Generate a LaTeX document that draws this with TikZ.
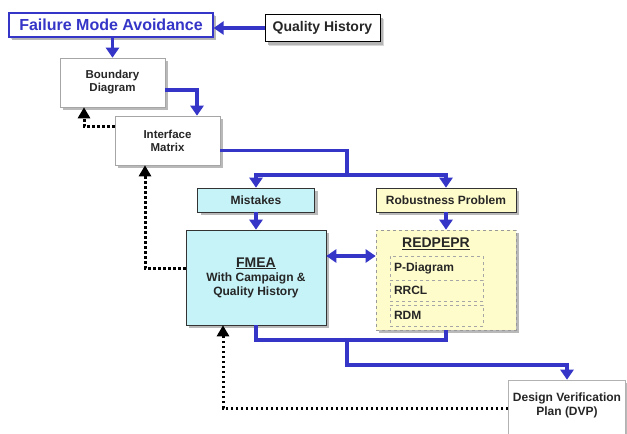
\documentclass[tikz,border=0pt]{standalone}
\usepackage{fontspec}
\setmainfont{Liberation Sans}
\usetikzlibrary{arrows.meta,shadows,calc}
\definecolor{fblue}{HTML}{3535C8}
\definecolor{cyanf}{HTML}{C6F3F8}
\definecolor{yelf}{HTML}{FFFCCB}
\definecolor{txt}{HTML}{262626}
\tikzset{
  base/.style={rectangle, draw=gray!70, line width=0.6pt, fill=white, align=center, font=\bfseries\fontsize{11.5}{13}\selectfont, text=txt, inner sep=1pt,
    drop shadow={shadow xshift=3pt, shadow yshift=-3pt, fill=gray!55, opacity=1}},
  inbox/.style={draw=gray!70, dashed, line width=0.6pt, minimum width=93pt, text width=85pt, inner sep=2pt, align=left, font=\bfseries\fontsize{12}{13}\selectfont, text=txt},
  flow/.style={draw=fblue, line width=3.2pt, -{Triangle[width=13pt,length=10pt]}},
  line/.style={draw=fblue, line width=3.2pt},
  dots/.style={draw=black, line width=3pt, dash pattern=on 2.6pt off 2.4pt, -{Triangle[width=12pt,length=11pt]}},
}
\begin{document}
\begin{tikzpicture}[x=1pt,y=-1pt]
\clip (0,0) rectangle (627,434);
\fill[white] (0,0) rectangle (627,434);
% nodes
\node[base, draw=fblue, line width=1.2pt, minimum width=204pt, minimum height=24pt, text=fblue, font=\bfseries\fontsize{16}{18}\selectfont,
  drop shadow={shadow xshift=1.5pt, shadow yshift=-1.5pt, fill=gray!60}] (fma) at (111,25) {Failure Mode Avoidance};
\node[base, draw=black, line width=0.9pt, minimum width=115pt, minimum height=27pt, font=\bfseries\fontsize{14}{16}\selectfont,
  drop shadow={shadow xshift=4pt, shadow yshift=-4pt, fill=gray!60}] (qh) at (322.5,28) {Quality History};
\node[base, minimum width=105pt, minimum height=49pt] (bd) at (112.5,82.5) {Boundary\\Diagram};
\node[base, minimum width=105pt, minimum height=49pt] (im) at (167.5,140.5) {Interface\\Matrix};
\node[base, draw=black!80, fill=cyanf, minimum width=117pt, minimum height=24pt, font=\bfseries\fontsize{12}{13}\selectfont] (mis) at (256,200) {Mistakes};
\node[base, draw=black!80, fill=yelf, minimum width=140pt, minimum height=24pt, font=\bfseries\fontsize{12}{13}\selectfont] (rp) at (446,200) {Robustness Problem};
\node[base, draw=black!80, fill=cyanf, minimum width=140pt, minimum height=95pt, font=\bfseries\fontsize{12}{14}\selectfont] (fmea) at (256,277.5)
  {{\fontsize{14}{17}\selectfont\underline{FMEA}}\\With Campaign \&\\Quality History};
\node[base, draw=gray!80, dashed, fill=yelf, minimum width=140pt, minimum height=100pt] (red) at (446,280) {};
\node[font=\bfseries\fontsize{14}{15}\selectfont, text=txt] (redt) at (436,244) {\underline{REDPEPR}};
\node[inbox, minimum height=24pt] (pd) at (436.5,268) {P-Diagram};
\node[inbox, minimum height=21pt] (rrcl) at (436.5,290.5) {RRCL};
\node[inbox, minimum height=21pt] (rdm) at (436.5,315.5) {RDM};
\node[base, draw=gray!60, minimum width=117pt, minimum height=70pt, text depth=22pt, font=\bfseries\fontsize{12}{14}\selectfont] (dvp) at (567,415) {Design Verification\\Plan (DVP)};
% coordinates
\coordinate (split) at (347,175);
\coordinate (m) at (347,340);
% blue connectors
\draw[flow] (qh.west) -- (qh.west -| fma.east);
\draw[flow] (fma.south -| bd.north) -- (bd.north);
\draw[flow] ([yshift=-7.5pt]bd.east) -| ([xshift=29.5pt]im.north);
\draw[line] ([yshift=-10pt]im.east) -| (split);
\draw[flow] (split) -| (mis.north);
\draw[flow] (split) -| (rp.north);
\draw[flow] (mis.south) -- (mis.south |- fmea.north);
\draw[flow] (rp.south) -- (rp.south |- red.north);
\draw[draw=fblue, line width=3.2pt, {Triangle[width=13pt,length=10pt]}-{Triangle[width=13pt,length=10pt]}] ([yshift=21.5pt]fmea.east) -- ([yshift=21.5pt]fmea.east -| red.west);
\draw[line] (fmea.south) |- (m);
\draw[line] (m) -| (red.south);
\draw[flow] (m) -- ++(0,25) -| (dvp.north);
% dotted feedback
\draw[dots] ([yshift=7pt]dvp.west) -| ([xshift=-33pt]fmea.south);
\draw[dots] ([yshift=9.5pt]fmea.west) -| ([xshift=-22.5pt]im.south);
\draw[dots] ([yshift=14.5pt]im.west) -| ([xshift=-28.5pt]bd.south);
\end{tikzpicture}
\end{document}
